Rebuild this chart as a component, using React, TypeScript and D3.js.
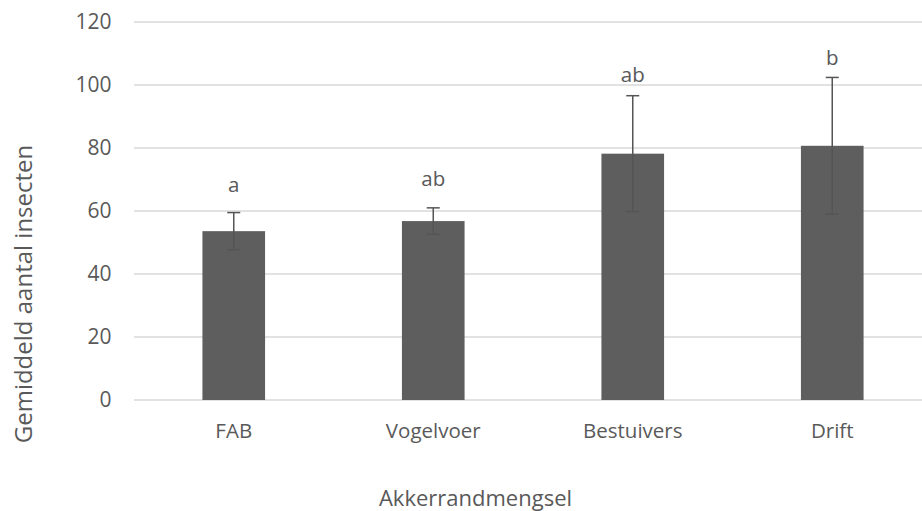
import React from "react";
import * as d3 from "d3";

const categories = ["FAB", "Vogelvoer", "Bestuivers", "Drift"];
const means = [53.6, 56.8, 78.2, 80.7];
const errors = [5.9, 4.2, 18.4, 21.7];
const letters = ["a", "ab", "ab", "b"];
const letterValues = [66.1, 68.0, 100.9, 106.2];
const yTicks = [0, 20, 40, 60, 80, 100, 120];

const W = 922;
const H = 511;
const FONT = "'Open Sans', 'Liberation Sans', sans-serif";
const TXT = "#595959";

export default function App() {
  const x = d3.scaleBand<string>().domain(categories).range([134, 932]).padding(0);
  const y = d3.scaleLinear().domain([0, 120]).range([400, 22]);
  const bw = x.bandwidth() * 0.314;
  const cap = 6.5;

  return (
    <svg width={W} height={H} style={{ display: "block", position: "absolute", left: 0, top: 0 }}>
      <rect width={W} height={H} fill="#ffffff" />
      {yTicks.map((t) => (
        <g key={t}>
          <line x1={134} x2={W} y1={y(t)} y2={y(t)} stroke="#d9d9d9" strokeWidth={1.4} />
          <text x={111.5} y={y(t) + 7.4} textAnchor="end" fontFamily={FONT} fontSize={21} fill={TXT}>
            {t}
          </text>
        </g>
      ))}
      {categories.map((c, i) => {
        const cx = (x(c) as number) + x.bandwidth() / 2;
        return (
          <g key={c}>
            <rect x={cx - bw / 2} y={y(means[i])} width={bw} height={y(0) - y(means[i])} fill="#5e5e5e" />
            <line x1={cx} x2={cx} y1={y(means[i] + errors[i])} y2={y(means[i] - errors[i])} stroke="#555555" strokeWidth={1.5} />
            <line x1={cx - cap} x2={cx + cap} y1={y(means[i] + errors[i])} y2={y(means[i] + errors[i])} stroke="#555555" strokeWidth={1.5} />
            <line x1={cx - cap} x2={cx + cap} y1={y(means[i] - errors[i])} y2={y(means[i] - errors[i])} stroke="#555555" strokeWidth={1.5} />
            <text x={cx} y={y(letterValues[i])} textAnchor="middle" fontFamily={FONT} fontSize={20.5} fill={TXT}>
              {letters[i]}
            </text>
            <text x={cx} y={438.3} textAnchor="middle" fontFamily={FONT} fontSize={20.5} fill={TXT}>
              {c}
            </text>
          </g>
        );
      })}
      <text x={475.5} y={506} textAnchor="middle" fontFamily={FONT} fontSize={22} fill={TXT}>
        Akkerrandmengsel
      </text>
      <text
        transform={`translate(32, 294) rotate(-90)`}
        textAnchor="middle"
        fontFamily={FONT}
        fontSize={24}
        fill={TXT}
      >
        Gemiddeld aantal insecten
      </text>
    </svg>
  );
}
